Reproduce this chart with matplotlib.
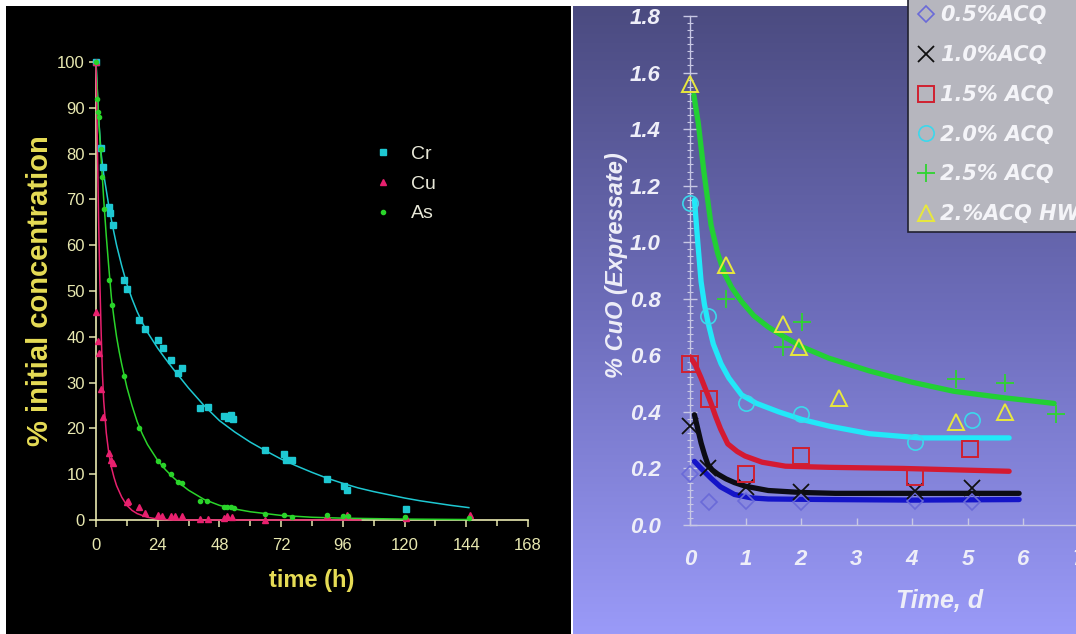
import numpy as np
import matplotlib
matplotlib.use("Agg")
import matplotlib.pyplot as plt
from matplotlib.patches import Rectangle
from matplotlib.ticker import MultipleLocator

# ---------------- Left panel data (time in h, % initial concentration) -------------
cr_t = [0, 1.75, 2.6, 5.0, 5.4, 6.7, 11.0, 12.1, 16.7, 19.1, 24.3, 26.2, 29.2, 31.7, 33.6,
        40.5, 43.5, 49.6, 51.5, 52.5, 53.4, 65.8, 73.2, 73.8, 76.4, 89.8, 96.3, 97.8, 120.6]
cr_y = [100, 81.2, 77.1, 68.4, 67, 64.4, 52.5, 50.4, 43.7, 41.8, 39.3, 37.6, 35, 32.2, 33.2,
        24.4, 24.7, 22.8, 22.2, 23.0, 22.0, 15.3, 14.4, 13.0, 13.2, 8.9, 7.4, 6.5, 2.3]
cr_fit_t = [0, 1, 2, 3, 4, 5, 6, 7, 8, 10, 12, 14, 16, 18, 20, 24, 27, 30, 33, 36, 42, 48, 54,
            60, 66, 72, 78, 84, 90, 96, 102, 108, 114, 120, 126, 132, 138, 145]
cr_fit_y = [100, 88, 80, 75.5, 72, 68.5, 65.5, 62.7, 60, 55.5, 51.5, 48.3, 45.5, 43.1, 41,
            37.5, 35.2, 33, 30.9, 28.8, 25, 21.7, 19.2, 17, 15.1, 13.3, 11.8, 10.4, 9.1, 8,
            7.0, 6.2, 5.5, 4.8, 4.2, 3.7, 3.2, 2.7]

cu_t = [0, 0, 0.6, 1.3, 1.9, 2.9, 5.2, 5.7, 6.5, 11.9, 12.6, 16.7, 19.1, 24.3, 25.5, 29.2,
        30.7, 33.6, 40.5, 43.5, 49.6, 51.0, 52.8, 65.8, 89.8, 97.5, 120.5, 145.5]
cu_y = [100, 45.5, 39, 36.5, 28.7, 22.4, 14.7, 13.2, 12.4, 3.9, 4.1, 2.8, 1.5, 1.0, 0.8, 0.9,
        0.9, 0.8, 0.3, 0.3, 0.5, 0.8, 0.6, 0.1, 0.9, 1.2, 0.5, 1.0]
cu_fit_t = [0, 0.5, 1, 1.5, 2, 2.5, 3, 4, 5, 6, 7, 8, 10, 12, 14, 16, 20, 24, 30, 103]
cu_fit_y = [100, 83, 66, 52, 41, 32, 26, 19, 14.5, 11.5, 9.3, 7.5, 5, 3.2, 2.1, 1.4, 0.6, 0.2,
            0, 0]

as_t = [0, 0.3, 0.6, 1.0, 2.0, 2.4, 3.0, 5.0, 6.1, 11.0, 16.7, 24.3, 26.2, 29.2, 31.7, 33.3,
        40.5, 43.1, 49.6, 51.0, 52.5, 53.5, 65.8, 73.0, 76.4, 90.0, 96.0, 98.0, 120.0, 145.0]
as_y = [100, 92, 89, 88, 81, 75, 68, 52.5, 47, 31.5, 20, 12.8, 12, 10, 8.2, 8.0,
        4.2, 4.1, 2.8, 2.8, 2.8, 2.6, 1.3, 1.0, 0.7, 1.0, 0.8, 0.8, 0.6, 0.5]
as_fit_t = [0, 1, 2, 3, 4, 5, 6, 7, 8, 9, 10, 12, 14, 16, 18, 20, 24, 27, 30, 33, 36, 42, 48,
            54, 60, 72, 84, 96, 120, 145]
as_fit_y = [100, 88, 79, 70, 62, 55, 48.5, 44, 40, 36.8, 34, 29, 25, 21.5, 18.8, 16.5, 13,
            11, 9.3, 7.8, 6.5, 4.5, 3.2, 2.4, 1.8, 1.0, 0.6, 0.4, 0.2, 0.1]

left_xticks = [0, 24, 48, 72, 96, 120, 144, 168]
left_yticks = [0, 10, 20, 30, 40, 50, 60, 70, 80, 90, 100]

# ---------------- Right panel data (time in d, % CuO) -------------------------------
days_labels = ["0.5%ACQ", "1.0%ACQ", "1.5% ACQ", "2.0% ACQ", "2.5% ACQ", "2.%ACQ HW"]

acq05_t = [0, 0.35, 1.0, 2.0, 4.05, 5.08]
acq05_v = [0.18, 0.08, 0.086, 0.08, 0.086, 0.08]
acq10_t = [0, 0.32, 1.0, 2.0, 4.05, 5.08]
acq10_v = [0.35, 0.2, 0.136, 0.115, 0.12, 0.13]
acq15_t = [0, 0.35, 1.0, 2.0, 4.05, 5.05]
acq15_v = [0.57, 0.445, 0.18, 0.245, 0.17, 0.27]
acq20_t = [0, 0.32, 1.0, 2.0, 4.05, 5.08]
acq20_v = [1.14, 0.74, 0.43, 0.394, 0.294, 0.373]
acq25_t = [0.65, 1.68, 2.02, 4.8, 5.68, 6.6]
acq25_v = [0.80, 0.63, 0.717, 0.516, 0.502, 0.394]
hw_t = [0, 0.64, 1.68, 1.96, 2.68, 4.8, 5.68]
hw_v = [1.56, 0.92, 0.71, 0.63, 0.45, 0.365, 0.40]

fit05_t = [0.08, 0.2, 0.38, 0.55, 0.8, 1.1, 1.41, 2.5, 4.0, 5.93]
fit05_v = [0.225, 0.2, 0.165, 0.135, 0.108, 0.096, 0.092, 0.09, 0.088, 0.09]
fit10_t = [0.08, 0.14, 0.2, 0.26, 0.32, 0.4, 0.5, 0.65, 0.8, 1.0, 1.41, 2.0, 2.62, 4.0, 5.93]
fit10_v = [0.39, 0.34, 0.29, 0.25, 0.215, 0.195, 0.18, 0.163, 0.15, 0.137, 0.122, 0.115,
           0.112, 0.112, 0.112]
fit15_t = [0, 0.1, 0.2, 0.3, 0.38, 0.46, 0.55, 0.68, 0.85, 0.99, 1.3, 1.72, 2.5, 3.84, 5.75]
fit15_v = [0.595, 0.565, 0.52, 0.47, 0.43, 0.385, 0.34, 0.287, 0.26, 0.244, 0.222, 0.208,
           0.204, 0.2, 0.19]
fit20_t = [0.08, 0.14, 0.2, 0.26, 0.32, 0.42, 0.56, 0.7, 0.93, 1.2, 1.6, 2.02, 2.5, 3.23,
           4.14, 5.75]
fit20_v = [1.15, 1.0, 0.86, 0.78, 0.72, 0.64, 0.57, 0.52, 0.46, 0.43, 0.40, 0.373, 0.35,
           0.323, 0.308, 0.308]
fit25_t = [0.07, 0.15, 0.25, 0.38, 0.5, 0.62, 0.75, 0.93, 1.15, 1.41, 1.7, 2.02, 2.5, 3.23,
           4.0, 4.75, 5.65, 6.56]
fit25_v = [1.52, 1.42, 1.25, 1.06, 0.96, 0.89, 0.84, 0.79, 0.74, 0.70, 0.665, 0.63, 0.59,
           0.545, 0.505, 0.473, 0.45, 0.43]

right_xticks = [0, 1, 2, 3, 4, 5, 6, 7]
right_yticks = [0.0, 0.2, 0.4, 0.6, 0.8, 1.0, 1.2, 1.4, 1.6, 1.8]

# ------------------------------------------------------------------------------------
W, H = 1076, 634
fig = plt.figure(figsize=(W / 100, H / 100), dpi=100, facecolor="white")

# left black panel
fig.patches.append(Rectangle((6 / W, 0), (571 - 6) / W, 628 / H, transform=fig.transFigure,
                             facecolor="black", edgecolor="none", zorder=0))
# right gradient panel
bg = fig.add_axes([573 / W, 0, (W - 573) / W, 628 / H], zorder=0)
top = np.array([0x4b, 0x4b, 0x80]) / 255
mid = np.array([0x6e, 0x6e, 0xbc]) / 255
bot = np.array([0x9a, 0x9a, 0xf8]) / 255
s = np.linspace(0, 1, 256)[:, None]
grad = np.where(s < 0.5, top + (mid - top) * (s / 0.5), mid + (bot - mid) * ((s - 0.5) / 0.5))
bg.imshow(grad[:, None, :], aspect="auto", extent=[0, 1, 0, 1])
bg.axis("off")

# ---------------- Left axes ----------------
cream = "#e8e8b0"
yel = "#e6dc55"
ax1 = fig.add_axes([96 / W, 1 - 520 / H, 432 / W, 458 / H], zorder=2)
ax1.set_facecolor("none")
ax1.set_xlim(0, 168)
ax1.set_ylim(0, 100)
for sp in ["top", "right"]:
    ax1.spines[sp].set_visible(False)
for sp in ["left", "bottom"]:
    ax1.spines[sp].set_color(cream)
    ax1.spines[sp].set_linewidth(1.2)
ax1.set_xticks(left_xticks)
ax1.set_yticks(left_yticks)
ax1.xaxis.set_minor_locator(MultipleLocator(12))
ax1.tick_params(axis="both", which="major", colors=cream, length=5, width=1.1,
                labelsize=12, direction="out", pad=3)
ax1.tick_params(axis="x", which="minor", colors=cream, length=4, width=1.1, direction="out")
ax1.tick_params(axis="x", which="major", pad=8)
for lab in ax1.get_xticklabels() + ax1.get_yticklabels():
    lab.set_fontfamily("Liberation Sans")

c_cr, c_cu, c_as = "#1ec8d2", "#e8206e", "#2ad42a"
ax1.plot(cr_fit_t, cr_fit_y, color=c_cr, lw=1.1, zorder=3, clip_on=False)
ax1.plot(as_fit_t, as_fit_y, color=c_as, lw=1.1, zorder=3, clip_on=False)
ax1.plot(cu_fit_t, cu_fit_y, color=c_cu, lw=1.1, zorder=3, clip_on=False)
ax1.plot(cr_t, cr_y, ls="none", marker="s", ms=4, color=c_cr, label="Cr", zorder=4, clip_on=False)
ax1.plot(cu_t, cu_y, ls="none", marker="^", ms=4.5, color=c_cu, label="Cu", zorder=4, clip_on=False)
ax1.plot(as_t, as_y, ls="none", marker="o", ms=3, color=c_as, label="As", zorder=4, clip_on=False)

ax1.set_ylabel("% initial concentration", color=yel, fontsize=21, fontweight="bold",
               fontfamily="Liberation Sans")
ax1.yaxis.set_label_coords(-0.098, 0.5)
ax1.set_xlabel("time (h)", color=yel, fontsize=17, fontweight="bold", fontfamily="Liberation Sans")
ax1.xaxis.set_label_coords(0.5, -0.106)

leg1 = ax1.legend(loc="upper left", bbox_to_anchor=(356 / W, 1 - 128 / H),
                  bbox_transform=fig.transFigure, frameon=False,
                  labelspacing=0.62, handletextpad=0.95, handlelength=1.0,
                  prop={"family": "Liberation Sans", "size": 14})
for t in leg1.get_texts():
    t.set_color("#e8e8d8")

# ---------------- Right axes ----------------
axc = "#c8c8e4"
white = "#eeeef8"
ax2 = fig.add_axes([690 / W, 1 - 525 / H, 388.5 / W, 509 / H], zorder=2)
ax2.set_facecolor("none")
ax2.set_xlim(0, 7)
ax2.set_ylim(0, 1.8)
for sp in ["top", "right"]:
    ax2.spines[sp].set_visible(False)
for sp in ["left", "bottom"]:
    ax2.spines[sp].set_color(axc)
    ax2.spines[sp].set_linewidth(1.0)
ax2.set_xticks(right_xticks)
ax2.set_yticks(right_yticks)
ax2.set_yticklabels([f"{v:.1f}" for v in right_yticks])
ax2.yaxis.set_minor_locator(MultipleLocator(0.025))
ax2.tick_params(axis="y", which="major", colors=axc, length=10, width=1.0, direction="inout",
                pad=16, labelsize=16, labelcolor=white)
ax2.tick_params(axis="y", which="minor", colors=axc, length=4, width=0.8, direction="inout")
ax2.tick_params(axis="x", which="major", colors=axc, length=5, width=1.0, direction="in",
                pad=17, labelsize=16, labelcolor=white)
for lab in ax2.get_xticklabels() + ax2.get_yticklabels():
    lab.set_fontfamily("Liberation Sans")
    lab.set_fontweight("bold")
    lab.set_fontstyle("italic")

lw = 3.8
ax2.plot(fit05_t, fit05_v, color="#1414c8", lw=lw, zorder=3, solid_capstyle="round")
ax2.plot(fit10_t, fit10_v, color="#0c0c14", lw=lw, zorder=3, solid_capstyle="round")
ax2.plot(fit15_t, fit15_v, color="#d41a32", lw=lw, zorder=3, solid_capstyle="round")
ax2.plot(fit20_t, fit20_v, color="#22e8f8", lw=lw, zorder=3, solid_capstyle="round")
ax2.plot(fit25_t, fit25_v, color="#22d034", lw=lw, zorder=3, solid_capstyle="round")

mk = dict(ls="none", zorder=4, clip_on=False)
ax2.plot(acq05_t, acq05_v, marker="D", ms=8, mfc="none", mec="#6a6ad8", mew=1.2,
         label=days_labels[0], **mk)
ax2.plot(acq10_t, acq10_v, marker="x", ms=11, color="#101010", mew=1.3,
         label=days_labels[1], **mk)
ax2.plot(acq15_t, acq15_v, marker="s", ms=12, mfc="none", mec="#d02030", mew=1.4,
         label=days_labels[2], **mk)
ax2.plot(acq20_t, acq20_v, marker="o", ms=11, mfc="none", mec="#3cd8ec", mew=1.2,
         label=days_labels[3], **mk)
ax2.plot(acq25_t, acq25_v, marker="+", ms=13, color="#2ed430", mew=1.3,
         label=days_labels[4], **mk)
ax2.plot(hw_t, hw_v, marker="^", ms=12, mfc="none", mec="#e8e83c", mew=1.4,
         label=days_labels[5], **mk)

ax2.set_ylabel("% CuO (Expressate)", color=white, fontsize=17, fontweight="bold",
               fontstyle="italic", fontfamily="Liberation Sans")
ax2.yaxis.set_label_coords(-0.16, 0.51)
ax2.set_xlabel("Time, d", color=white, fontsize=18, fontweight="bold", fontstyle="italic",
               fontfamily="Liberation Sans")
ax2.xaxis.set_label_coords(0.643, -0.125)

leg2 = ax2.legend(loc="upper left", bbox_to_anchor=(908 / W, 1 + 2 / H),
                  bbox_transform=fig.transFigure, frameon=True, fancybox=False,
                  facecolor="#b6b6be", edgecolor="#202030", framealpha=1,
                  labelspacing=0.95, handletextpad=0.2, handlelength=1.0, borderpad=0.35,
                  borderaxespad=0,
                  prop={"family": "DejaVu Sans", "size": 15, "weight": "bold", "style": "italic"})
leg2.get_frame().set_linewidth(1.2)
leg2.set_zorder(10)
for t in leg2.get_texts():
    t.set_color("#f4f4f8")

fig.savefig("out.png", dpi=100, facecolor="white")
